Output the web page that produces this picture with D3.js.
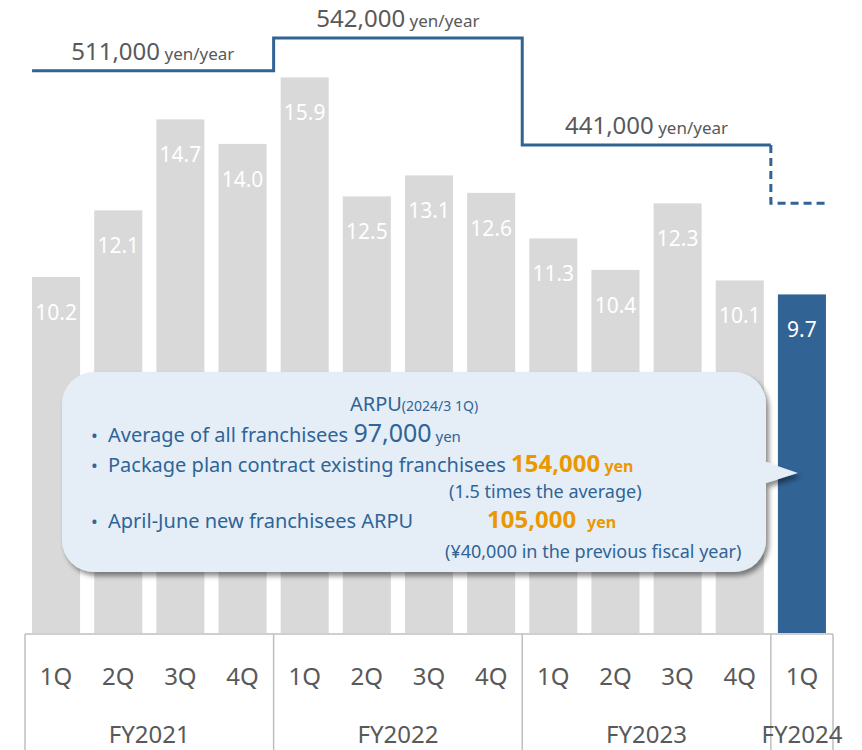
<!DOCTYPE html>
<meta charset="utf-8">
<style>
body {margin: 0; background: #fff;}
svg text {font-family: "Noto Sans", "Open Sans", sans-serif;}
</style>
<html>
<body>
<script src="https://d3js.org/d3.v7.min.js"></script>
<script>
var width = 862,
    height = 750;

// quarterly values (bars)
var quarters = ["1Q","2Q","3Q","4Q","1Q","2Q","3Q","4Q","1Q","2Q","3Q","4Q","1Q"];
var fiscalYears = ["FY2021","FY2021","FY2021","FY2021","FY2022","FY2022","FY2022","FY2022",
                   "FY2023","FY2023","FY2023","FY2023","FY2024"];
var values = [10.2, 12.1, 14.7, 14.0, 15.9, 12.5, 13.1, 12.6, 11.3, 10.4, 12.3, 10.1, 9.7];

// annual ARPU step line (thousand yen / year), last one is the dashed forecast
var yearNames = ["FY2021", "FY2022", "FY2023", "FY2024"];
var annualArpu = [511, 542, 441, 386];
var arpuLabels = ["511,000", "542,000", "441,000", ""];

// callout figures
var avgArpu = "97,000";
var packageArpu = "154,000";
var newArpu = "105,000";
var prevNewArpu = "¥40,000";

var grey = "#d9d9d9",
    blue = "#316395",
    textGrey = "#595959",
    boxBlue = "#2f6496",
    orange = "#eb9800";

var svg = d3.select("body").append("svg")
    .attr("width", width)
    .attr("height", height);

var defs = svg.append("defs");
var shadow = defs.append("filter").attr("id", "shadow")
    .attr("x", "-10%").attr("y", "-10%").attr("width", "130%").attr("height", "130%");
shadow.append("feDropShadow")
    .attr("dx", 3).attr("dy", 4).attr("stdDeviation", 2.5)
    .attr("flood-color", "#000").attr("flood-opacity", 0.45);

var x = d3.scaleBand()
    .domain(d3.range(values.length))
    .range([25, 833])
    .paddingInner(0.227)
    .paddingOuter(0.1135);

var y = d3.scaleLinear()
    .domain([0, 18.11])
    .range([634, 0]);

var arpuY = d3.scaleLinear()
    .domain([441, 542])
    .range([145, 38]);

var step = x.step(),
    gap = step - x.bandwidth();

// bars
svg.selectAll("rect.bar")
    .data(values)
    .enter().append("rect")
    .attr("class", "bar")
    .attr("x", function(d, i) { return x(i); })
    .attr("y", function(d) { return y(d); })
    .attr("width", x.bandwidth())
    .attr("height", function(d) { return y(0) - y(d) - 1; })
    .attr("fill", function(d, i) { return i == values.length - 1 ? blue : grey; });

svg.selectAll("text.val")
    .data(values)
    .enter().append("text")
    .attr("class", "val")
    .attr("x", function(d, i) { return x(i) + x.bandwidth() / 2; })
    .attr("y", function(d) { return y(d) + 43; })
    .attr("text-anchor", "middle")
    .attr("font-size", 21)
    .attr("fill", "#fff")
    .text(function(d) { return d.toFixed(1); });

// step line
var groups = yearNames.map(function(name, g) {
    var idx = d3.range(values.length).filter(function(i) { return fiscalYears[i] == name; });
    var first = idx[0], last = idx[idx.length - 1];
    var x0 = g == 0 ? x(first) : x(first) - gap / 2;
    var x1 = g == yearNames.length - 1 ? x(last) + x.bandwidth() : x(last) + x.bandwidth() + gap / 2;
    return {x0: x0, x1: x1, y: arpuY(annualArpu[g]), label: arpuLabels[g]};
});

var solid = d3.path();
groups.slice(0, 3).forEach(function(g, i) {
    if (i == 0) solid.moveTo(g.x0, g.y); else solid.lineTo(g.x0, g.y);
    solid.lineTo(g.x1, g.y);
});
svg.append("path")
    .attr("d", solid.toString())
    .attr("fill", "none")
    .attr("stroke", blue)
    .attr("stroke-width", 3);

var g2 = groups[2], g3 = groups[3];
var dashed = d3.path();
dashed.moveTo(g2.x1, g2.y);
dashed.lineTo(g3.x0, g3.y);
dashed.lineTo(g3.x1, g3.y);
svg.append("path")
    .attr("d", dashed.toString())
    .attr("fill", "none")
    .attr("stroke", blue)
    .attr("stroke-width", 3)
    .attr("stroke-dasharray", "8,5");

groups.forEach(function(g) {
    if (!g.label) return;
    var t = svg.append("text")
        .attr("x", (g.x0 + g.x1) / 2)
        .attr("y", g.y - 11)
        .attr("text-anchor", "middle")
        .attr("fill", textGrey);
    t.append("tspan").attr("font-size", 24).text(g.label);
    t.append("tspan").attr("font-size", 17).text(" yen/year");
});

// table under the bars
var lineColor = "#bfbfbf";
svg.append("line")
    .attr("x1", 25).attr("x2", 833)
    .attr("y1", 634).attr("y2", 634)
    .attr("stroke", lineColor).attr("stroke-width", 1.5);

var bounds = groups.map(function(g, i) { return i == 0 ? x(0) - gap / 2 : g.x0; });
bounds.push(groups[groups.length - 1].x1 + gap / 2);
svg.selectAll("line.sep")
    .data(bounds)
    .enter().append("line")
    .attr("class", "sep")
    .attr("x1", function(d) { return d; })
    .attr("x2", function(d) { return d; })
    .attr("y1", 634).attr("y2", height)
    .attr("stroke", lineColor).attr("stroke-width", 1.5);

svg.selectAll("text.q")
    .data(quarters)
    .enter().append("text")
    .attr("class", "q")
    .attr("x", function(d, i) { return x(i) + x.bandwidth() / 2; })
    .attr("y", 685)
    .attr("text-anchor", "middle")
    .attr("font-size", 24)
    .attr("fill", textGrey)
    .text(function(d) { return d; });

svg.selectAll("text.fy")
    .data(yearNames)
    .enter().append("text")
    .attr("class", "fy")
    .attr("x", function(d, i) { return (bounds[i] + bounds[i + 1]) / 2; })
    .attr("y", 743)
    .attr("text-anchor", "middle")
    .attr("font-size", 24)
    .attr("fill", textGrey)
    .text(function(d) { return d; });

// callout box
var bx0 = 62, bx1 = 766, by0 = 372, by1 = 572, r = 32;
var tipX = x(values.length - 1) + 20, tipY = 473;
var p = d3.path();
p.moveTo(bx0 + r, by0);
p.lineTo(bx1 - r, by0);
p.arcTo(bx1, by0, bx1, by0 + r, r);
p.lineTo(bx1, tipY - 11);
p.lineTo(tipX, tipY);
p.lineTo(bx1, tipY + 10);
p.lineTo(bx1, by1 - r);
p.arcTo(bx1, by1, bx1 - r, by1, r);
p.lineTo(bx0 + r, by1);
p.arcTo(bx0, by1, bx0, by1 - r, r);
p.lineTo(bx0, by0 + r);
p.arcTo(bx0, by0, bx0 + r, by0, r);
p.closePath();
svg.append("path")
    .attr("d", p.toString())
    .attr("fill", "#e5eef7")
    .attr("filter", "url(#shadow)");

var title = svg.append("text")
    .attr("x", (bx0 + bx1) / 2).attr("y", 411)
    .attr("text-anchor", "middle")
    .attr("fill", boxBlue);
title.append("tspan").attr("font-size", 20).text("ARPU");
title.append("tspan").attr("font-size", 14).text("(2024/3 1Q)");

[442, 472, 528].forEach(function(yy) {
    svg.append("text").attr("x", 91).attr("y", yy)
        .attr("font-size", 18).attr("fill", boxBlue).text("•");
});

var l1 = svg.append("text").attr("x", 108).attr("y", 442).attr("fill", boxBlue);
l1.append("tspan").attr("font-size", 20).text("Average of all franchisees ");
l1.append("tspan").attr("font-size", 25).text(avgArpu);
l1.append("tspan").attr("font-size", 15).text(" yen");

var l2 = svg.append("text").attr("x", 108).attr("y", 472).attr("fill", boxBlue);
l2.append("tspan").attr("font-size", 20).text("Package plan contract existing franchisees ");
l2.append("tspan").attr("font-size", 24).attr("font-weight", "bold").attr("fill", orange).text(packageArpu);
l2.append("tspan").attr("font-size", 16).attr("font-weight", "bold").attr("fill", orange).text(" yen");

svg.append("text").attr("x", 449).attr("y", 498)
    .attr("font-size", 18).attr("fill", boxBlue)
    .text("(1.5 times the average)");

svg.append("text").attr("x", 108).attr("y", 528)
    .attr("font-size", 20).attr("fill", boxBlue)
    .text("April-June new franchisees ARPU");
svg.append("text").attr("x", 487).attr("y", 528)
    .attr("font-size", 24).attr("font-weight", "bold").attr("fill", orange)
    .text(newArpu);
svg.append("text").attr("x", 587).attr("y", 528)
    .attr("font-size", 16).attr("font-weight", "bold").attr("fill", orange)
    .text("yen");

svg.append("text").attr("x", 445).attr("y", 558)
    .attr("font-size", 18).attr("fill", boxBlue)
    .text("(" + prevNewArpu + " in the previous fiscal year)");
</script>
</body>
</html>
